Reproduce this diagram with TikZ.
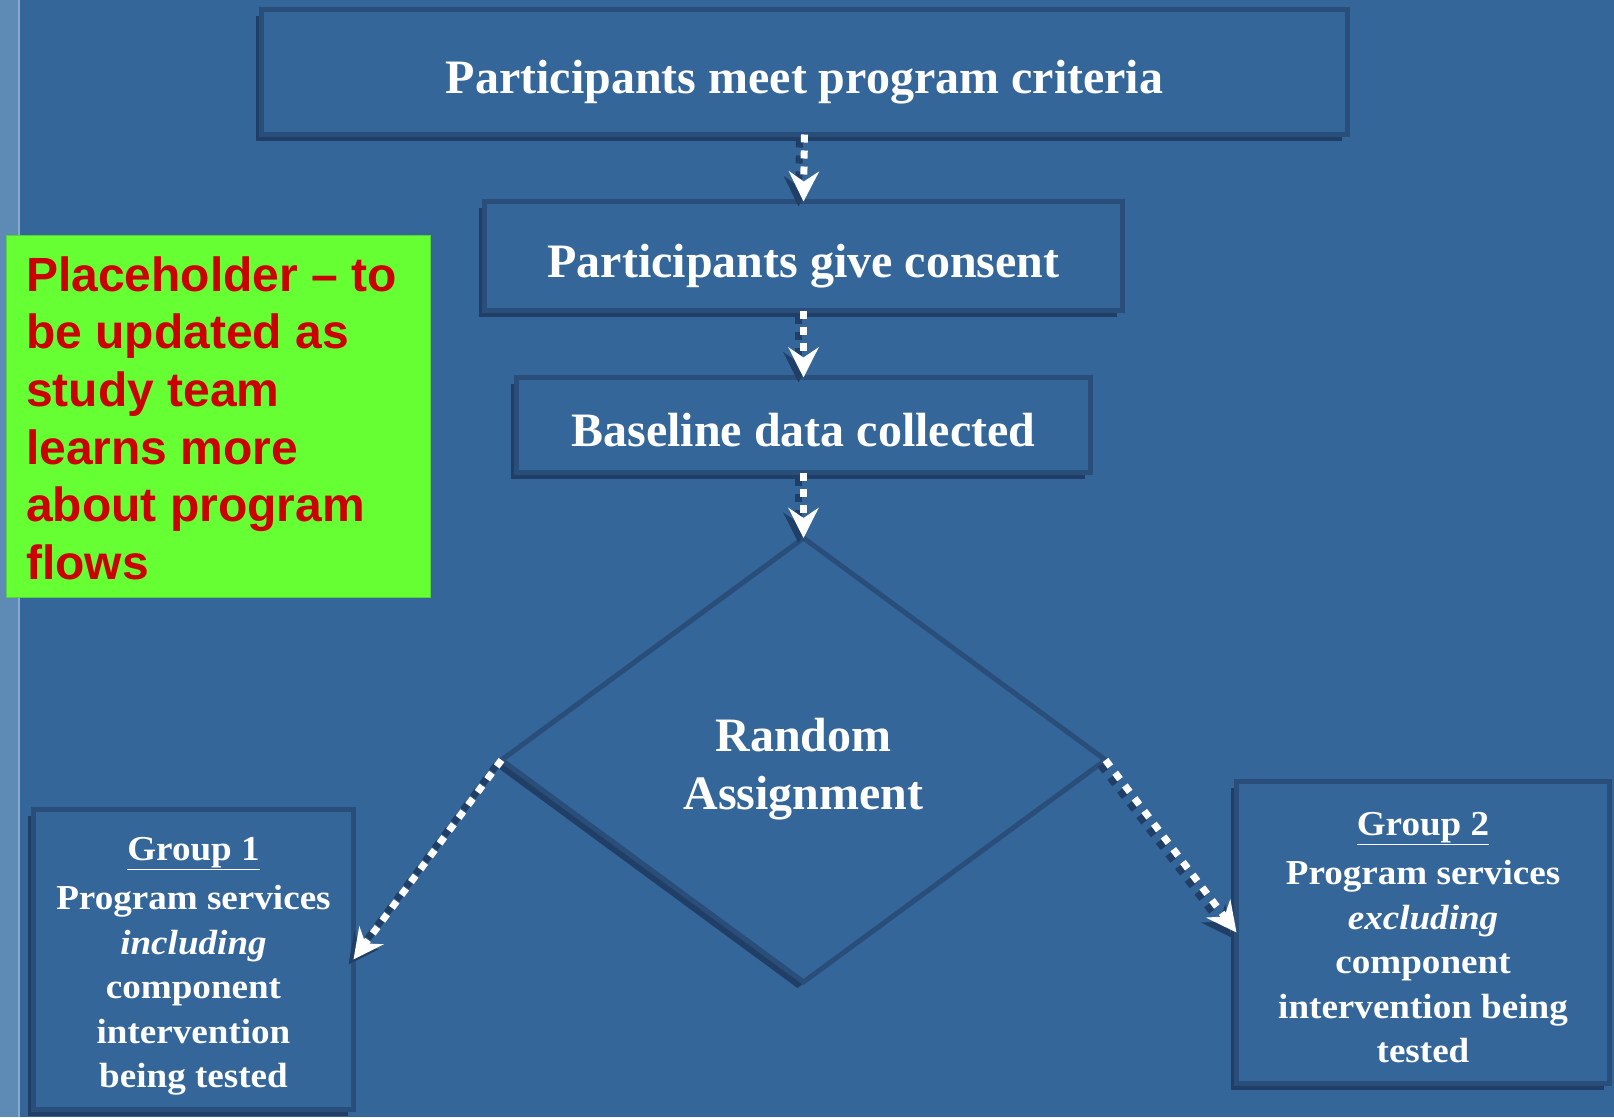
\documentclass[tikz,border=0pt]{standalone}
\usepackage{fontspec}
\setmainfont{Liberation Serif}
\newfontfamily\grpfont{Liberation Serif}[FakeStretch=1.06]
\newfontfamily\phfont{Liberation Sans}
\usetikzlibrary{arrows.meta,shapes.geometric,shadows}
\definecolor{bgcol}{HTML}{346699}
\definecolor{bordercol}{HTML}{2A4E7A}
\definecolor{shadowcol}{HTML}{213F66}
\definecolor{stripcol}{HTML}{5E8AB6}
\definecolor{stripedge}{HTML}{8AAACB}
\definecolor{phgreen}{HTML}{66FF33}
\definecolor{phedge}{HTML}{55D23C}
\definecolor{phred}{HTML}{CC0000}
\tikzset{
  flowbox/.style={draw=bordercol, line width=5pt, fill=bgcol, inner sep=0pt, outer sep=0pt,
    text=white, font=\fontsize{48}{58}\selectfont\bfseries, text height=42pt, text depth=0pt,
    drop shadow={shadow xshift=-6pt, shadow yshift=-6pt, fill=shadowcol, opacity=1}},
  plainbox/.style={draw=bordercol, line width=5pt, fill=bgcol, inner sep=0pt, outer sep=0pt,
    drop shadow={shadow xshift=-6pt, shadow yshift=-6pt, fill=shadowcol, opacity=1}},
  decision/.style={plainbox, diamond},
  bigtext/.style={text=white, align=center, inner sep=0pt, font=\fontsize{48}{58}\selectfont\bfseries},
  grptext/.style={text=white, align=center, inner sep=0pt, font=\grpfont\fontsize{35}{44.5}\selectfont\bfseries},
  phbox/.style={fill=phgreen, draw=phedge, line width=1pt, inner sep=0pt, outer sep=0pt},
  phtext/.style={text=phred, font=\phfont\fontsize{48}{57.7}\selectfont\bfseries, inner sep=0pt},
  flowline/.style={line width=7pt, dash pattern=on 8pt off 8pt,
    -{Stealth[length=30pt,width=30pt,inset=10pt]}},
}
\begin{document}
\begin{tikzpicture}[x=1pt,y=-1pt]
\useasboundingbox (0,0) rectangle (1614,1117);
\fill[bgcol] (0,0) rectangle (1614,1117);
\fill[stripcol] (0,0) rectangle (18,1117);
\fill[stripedge] (18,0) rectangle (19.5,1117);

% placeholder
\node[phbox, minimum width=424, minimum height=362] (ph) at (218.5,416.5) {};
\node[phtext, anchor=base west] (pht) at (26,291) {\parbox[t]{400pt}{\raggedright
Placeholder – to\\be updated as\\study team\\learns more\\about program\\flows}};

% boxes
\node[flowbox, minimum width=1086, minimum height=125] (b1) at (804.5,72) {Participants meet program criteria};
\node[flowbox, minimum width=638, minimum height=109] (b2) at (803.5,256) {Participants give consent};
\node[flowbox, minimum width=574, minimum height=95] (b3) at (803.5,425) {Baseline data collected};
\node[decision, minimum width=604, minimum height=444] (dia) at (803.5,760) {};
\node[bigtext] (diat) at ([yshift=-9pt]dia.center) {Random\\Assignment};
\node[plainbox, minimum width=320, minimum height=300] (g1) at (193.5,959.5) {};
\node[grptext] (g1t) at ([yshift=-7pt]g1.center)
  {\underline{Group 1}\\[5pt]Program services\\\textit{including}\\component\\intervention\\being tested};
\node[plainbox, minimum width=373, minimum height=302] (g2) at (1423,932.5) {};
\node[grptext] (g2t) at ([yshift=-5pt]g2.center)
  {\underline{Group 2}\\[5pt]Program services\\\textit{excluding}\\component\\intervention being\\tested};

% connectors: shadows then white dotted arrows
\begin{scope}[transform canvas={xshift=-5pt,yshift=-5pt}]
\draw[flowline, shadowcol] (b1.south) -- (b2.north);
\draw[flowline, shadowcol] (b2.south) -- (b3.north);
\draw[flowline, shadowcol] (b3.south) -- (dia.north);
\draw[flowline, shadowcol] (dia.west) -- (g1.east);
\draw[flowline, shadowcol] (dia.east) -- (g2.west);
\end{scope}
\draw[flowline, white] (b1.south) -- (b2.north);
\draw[flowline, white] (b2.south) -- (b3.north);
\draw[flowline, white] (b3.south) -- (dia.north);
\draw[flowline, white] (dia.west) -- (g1.east);
\draw[flowline, white] (dia.east) -- (g2.west);
\end{tikzpicture}
\end{document}
